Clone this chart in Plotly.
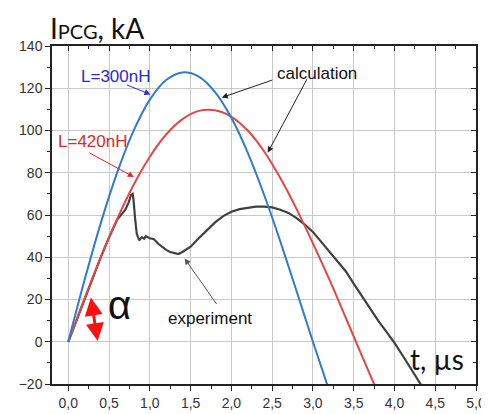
import plotly.graph_objects as go

# ---- data ----
t_calc300 = [0, 0.2, 0.4, 0.6, 0.8, 1.0, 1.2, 1.4, 1.6, 1.8, 2.0, 2.2, 2.4, 2.6, 2.8, 3.0, 3.2]
i_calc300 = [0, 29.3, 56.4, 80.2, 99.8, 114.6, 123.9, 127.5, 125.5, 118.2, 106.0, 89.5, 69.7, 47.5, 23.9, 0.0, -23.2]

t_calc420 = [0, 0.2, 0.4, 0.6, 0.8, 1.0, 1.2, 1.4, 1.6, 1.8, 2.0, 2.2, 2.4, 2.6, 2.8, 3.0, 3.2, 3.4, 3.6, 3.8]
i_calc420 = [0, 20.5, 40.2, 58.2, 74.2, 87.6, 98.1, 105.4, 109.3, 109.6, 106.5, 100.0, 90.2, 77.5, 62.8, 46.6, 29.6, 11.6, -6.6, -24.5]

t_exp = [0, 0.2, 0.4, 0.5, 0.6, 0.65, 0.7, 0.74, 0.77, 0.79, 0.8, 0.82, 0.84, 0.87, 0.9, 0.93, 0.95,
         1.0, 1.05, 1.1, 1.15, 1.2, 1.25, 1.3, 1.35, 1.4, 1.5, 1.6, 1.7, 1.8, 1.9, 2.0, 2.1, 2.2,
         2.3, 2.4, 2.5, 2.6, 2.7, 2.8, 2.9, 3.0, 3.1, 3.2, 3.3, 3.4, 3.5, 3.6, 3.7, 3.8, 3.9, 4.0,
         4.1, 4.2, 4.3, 4.36]
i_exp = [0, 20.5, 40.2, 49.4, 57.8, 60.2, 62.5, 66, 69.5, 70, 67, 58, 51, 48, 49.5, 48.8, 50,
         49, 48.5, 46.5, 45, 43.5, 42.5, 42, 41.5, 42.5, 45, 49, 53, 56.5, 59.5, 61.5, 62.8, 63.5,
         64, 64, 63.6, 62.5, 61, 58.5, 55.5, 52, 47.5, 43, 38.5, 33.5, 27.5, 21.5, 15.5, 10, 4.8, -0.5,
         -6.5, -12.6, -18.8, -22.5]

x_tickvals = [0, 0.5, 1.0, 1.5, 2.0, 2.5, 3.0, 3.5, 4.0, 4.5, 5.0]
x_ticktext = ["0,0", "0,5", "1,0", "1,5", "2,0", "2,5", "3,0", "3,5", "4,0", "4,5", "5,0"]
y_tickvals = [-20, 0, 20, 40, 60, 80, 100, 120, 140]

XR = [-0.2, 5.0]
YR = [-20, 140]

fig = go.Figure()
fig.add_trace(go.Scatter(x=t_exp, y=i_exp, mode="lines", line=dict(color="#404040", width=2.2),
                         showlegend=False, hoverinfo="skip"))
fig.add_trace(go.Scatter(x=t_calc420, y=i_calc420, mode="lines", line=dict(color="#e04848", width=2, shape="spline"),
                         showlegend=False, hoverinfo="skip"))
fig.add_trace(go.Scatter(x=t_calc300, y=i_calc300, mode="lines", line=dict(color="#2f7ccc", width=2, shape="spline"),
                         showlegend=False, hoverinfo="skip"))
fig.add_trace(go.Scatter(x=[None], y=[None], xaxis="x2", yaxis="y2", showlegend=False))

tickfont = dict(family="Liberation Sans, Arial", size=14, color="#333333")

fig.update_layout(
    width=489, height=414,
    margin=dict(l=44, r=11, t=38, b=28),
    paper_bgcolor="white", plot_bgcolor="white",
    xaxis=dict(range=XR, tickvals=x_tickvals, ticktext=x_ticktext, ticks="outside", ticklen=5,
               tickcolor="#222", tickwidth=1.2, showline=True, linecolor="#222", linewidth=1.5,
               showgrid=True, gridcolor="#c8c8c8", gridwidth=1, zeroline=False, tickfont=tickfont,
               minor=dict(dtick=0.25, tick0=0, ticks="outside", ticklen=3, tickcolor="#222", showgrid=False)),
    yaxis=dict(range=YR, tickvals=y_tickvals, ticks="outside", ticklen=5,
               tickcolor="#222", tickwidth=1.2, showline=True, linecolor="#222", linewidth=1.5,
               showgrid=True, gridcolor="#c8c8c8", gridwidth=1, zeroline=False, tickfont=tickfont,
               minor=dict(dtick=10, tick0=0, ticks="outside", ticklen=3, tickcolor="#222", showgrid=False)),
    xaxis2=dict(range=XR, overlaying="x", side="top", tickvals=x_tickvals, ticks="inside", ticklen=5,
                tickcolor="#222", showticklabels=False, showline=True, linecolor="#222", linewidth=1.5,
                showgrid=False, zeroline=False,
                minor=dict(dtick=0.25, tick0=0, ticks="inside", ticklen=3, tickcolor="#222", showgrid=False)),
    yaxis2=dict(range=YR, overlaying="y", side="right", tickvals=y_tickvals, ticks="inside", ticklen=5,
                tickcolor="#222", showticklabels=False, showline=True, linecolor="#222", linewidth=1.5,
                showgrid=False, zeroline=False,
                minor=dict(dtick=10, tick0=0, ticks="inside", ticklen=3, tickcolor="#222", showgrid=False)),
)

lab = dict(family="Liberation Sans, Arial", size=17)
big = dict(family="Lato, Open Sans, sans-serif", size=28, color="#111")

ann = [
    # title
    dict(xref="paper", yref="paper", x=-0.01, y=1.052, xanchor="left", yanchor="middle", align="left",
         text="I<span style='font-size:20px'>PCG</span>, kA", showarrow=False, font=big),
    dict(x=4.52, y=-8, text="t, µs", showarrow=False, font=big),
    # labels
    dict(x=0.576, y=125.7, text="L=300nH", showarrow=False, font=dict(lab, color="#2a2ad0")),
    dict(x=0.30, y=95.0, text="L=420nH", showarrow=False, font=dict(lab, color="#d82a2a")),
    dict(x=3.046, y=127.2, text="calculation", showarrow=False, font=dict(lab, color="#111")),
    dict(x=1.739, y=10.9, text="experiment", showarrow=False, font=dict(lab, color="#111")),
    dict(x=0.623, y=17.3, text="α", showarrow=False, font=dict(family="Liberation Sans, Arial", size=40, color="#111")),
    # arrows
    dict(x=1.007, y=117.1, ax=-25, ay=-10, text="", showarrow=True, arrowhead=2, arrowsize=1.2,
         arrowwidth=1, arrowcolor="#2a2ad0"),
    dict(x=0.803, y=78.0, ax=-46, ay=-25, text="", showarrow=True, arrowhead=2, arrowsize=1.2,
         arrowwidth=1, arrowcolor="#d82a2a"),
    dict(x=1.882, y=115.6, ax=52, ay=-18, text="", showarrow=True, arrowhead=2, arrowsize=1.2,
         arrowwidth=1, arrowcolor="#222"),
    dict(x=2.446, y=89.5, ax=40, ay=-75, text="", showarrow=True, arrowhead=2, arrowsize=1.2,
         arrowwidth=1, arrowcolor="#222"),
    dict(x=1.427, y=39.4, ax=33, ay=47, text="", showarrow=True, arrowhead=2, arrowsize=1.2,
         arrowwidth=1, arrowcolor="#555"),
    dict(x=0.36, y=0.3, ax=-7, ay=-45, text="", showarrow=True, arrowhead=2, startarrowhead=2,
         arrowside="end+start", arrowsize=1.2, startarrowsize=1.2, arrowwidth=3, arrowcolor="#ff1010"),
]
fig.update_layout(annotations=ann)

fig.write_html("out.html")
